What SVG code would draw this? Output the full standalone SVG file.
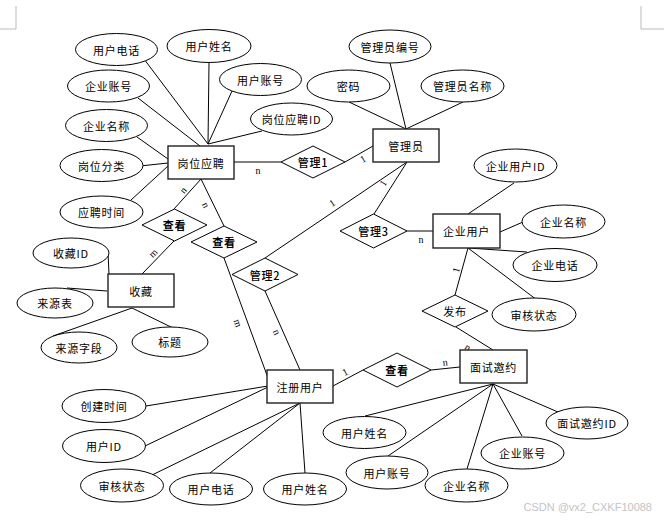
<svg xmlns="http://www.w3.org/2000/svg" width="664" height="521" viewBox="0 0 664 521">
<style>
.e{fill:#fff;stroke:#000;stroke-width:1}
.r{fill:#fff;stroke:#222;stroke-width:1.4}
.d{fill:#fff;stroke:#000;stroke-width:1}
.t{font-family:"Noto Sans CJK SC","Liberation Sans",sans-serif;font-size:11px;letter-spacing:0.8px;text-anchor:middle;dominant-baseline:central;fill:#000}
.b{font-weight:bold}
.l{font-family:"Liberation Serif",serif;font-size:10px;text-anchor:middle;dominant-baseline:central;fill:#000}
#conn line{stroke:#000;stroke-width:1}
</style>
<rect width="664" height="521" fill="#fff"/>
<path d="M16,6 V29 H0 M641,6 V29 H664" fill="none" stroke="#bbb" stroke-width="1"/>
<g id="conn">
<line x1="144" y1="59" x2="208" y2="144"/>
<line x1="209" y1="63" x2="208" y2="144"/>
<line x1="232" y1="91" x2="208" y2="144"/>
<line x1="138" y1="98" x2="200" y2="146"/>
<line x1="262" y1="131" x2="208" y2="144"/>
<line x1="137" y1="137" x2="168" y2="159"/>
<line x1="140" y1="166" x2="168" y2="163"/>
<line x1="131" y1="200" x2="168" y2="166"/>
<line x1="234" y1="162" x2="281" y2="162"/>
<line x1="345" y1="162" x2="373" y2="146"/>
<line x1="201" y1="179" x2="174" y2="209"/>
<line x1="201" y1="179" x2="224" y2="226"/>
<line x1="174" y1="241" x2="142" y2="274"/>
<line x1="224" y1="258" x2="268" y2="378"/>
<line x1="265" y1="291" x2="300" y2="370"/>
<line x1="265" y1="258" x2="407" y2="162"/>
<line x1="407" y1="162" x2="374" y2="214"/>
<line x1="407" y1="231" x2="433" y2="231"/>
<line x1="390" y1="63" x2="406" y2="129"/>
<line x1="349" y1="102" x2="406" y2="129"/>
<line x1="463" y1="102" x2="406" y2="129"/>
<line x1="514" y1="183" x2="468" y2="214"/>
<line x1="500" y1="232" x2="523" y2="222"/>
<line x1="468" y1="248" x2="527" y2="252"/>
<line x1="468" y1="248" x2="537" y2="300"/>
<line x1="468" y1="248" x2="455" y2="295"/>
<line x1="456" y1="327" x2="493" y2="350"/>
<line x1="333" y1="386" x2="363" y2="370"/>
<line x1="431" y1="370" x2="460" y2="367"/>
<line x1="493" y1="384" x2="365" y2="416"/>
<line x1="493" y1="384" x2="388" y2="456"/>
<line x1="493" y1="384" x2="467" y2="469"/>
<line x1="493" y1="384" x2="522" y2="436"/>
<line x1="493" y1="384" x2="558" y2="412"/>
<line x1="146" y1="406" x2="268" y2="386"/>
<line x1="145" y1="446" x2="268" y2="387"/>
<line x1="152" y1="475" x2="300" y2="403"/>
<line x1="210" y1="473" x2="300" y2="403"/>
<line x1="305" y1="473" x2="300" y2="403"/>
<line x1="108" y1="252" x2="109" y2="274"/>
<line x1="67" y1="288" x2="107" y2="291"/>
<line x1="53" y1="336" x2="132" y2="308"/>
<line x1="173" y1="328" x2="132" y2="308"/>
<text class="l" x="258" y="170">n</text>
<text class="l" x="363" y="159" transform="rotate(-30 363 159)">1</text>
<text class="l" x="183" y="190" transform="rotate(-48 183 190)">n</text>
<text class="l" x="206" y="205" transform="rotate(64 206 205)">n</text>
<text class="l" x="153" y="253" transform="rotate(-45 153 253)">m</text>
<text class="l" x="238" y="323" transform="rotate(71 238 323)">m</text>
<text class="l" x="277" y="332" transform="rotate(66 277 332)">n</text>
<text class="l" x="332" y="203" transform="rotate(-34 332 203)">1</text>
<text class="l" x="383" y="183" transform="rotate(-58 383 183)">1</text>
<text class="l" x="421" y="239">n</text>
<text class="l" x="456" y="270" transform="rotate(-75 456 270)">1</text>
<text class="l" x="468" y="347" transform="rotate(32 468 347)">n</text>
<text class="l" x="345" y="372" transform="rotate(-28 345 372)">1</text>
<text class="l" x="445" y="362" transform="rotate(-6 445 362)">n</text>
</g>
<g id="n_gwyp"><rect class="r" x="168" y="146" width="66" height="33"/><text class="t" x="201" y="162.5">岗位应聘</text></g>
<g id="a_yhdh"><ellipse class="e" cx="116.5" cy="49.5" rx="41" ry="16"/><text class="t" x="116.5" y="49.5">用户电话</text></g>
<g id="a_yhxm"><ellipse class="e" cx="209" cy="46" rx="42" ry="16.5"/><text class="t" x="209" y="46">用户姓名</text></g>
<g id="a_yhzh"><ellipse class="e" cx="260.5" cy="79.5" rx="41" ry="16"/><text class="t" x="260.5" y="79.5">用户账号</text></g>
<g id="a_qyzh"><ellipse class="e" cx="108.5" cy="86" rx="41" ry="16"/><text class="t" x="108.5" y="86">企业账号</text></g>
<g id="a_qymc"><ellipse class="e" cx="106.5" cy="125.5" rx="41" ry="16"/><text class="t" x="106.5" y="125.5">企业名称</text></g>
<g id="a_gwypid"><ellipse class="e" cx="291.5" cy="119" rx="41" ry="16"/><text class="t" x="291.5" y="119">岗位应聘ID</text></g>
<g id="a_gwfl"><ellipse class="e" cx="101.5" cy="165.5" rx="41.5" ry="16"/><text class="t" x="101.5" y="165.5">岗位分类</text></g>
<g id="a_ypsj"><ellipse class="e" cx="101.5" cy="212" rx="41.5" ry="16"/><text class="t" x="101.5" y="212">应聘时间</text></g>
<g id="r_gl1"><polygon class="d" points="281,162 313,146 345,162 313,178"/><text class="t b" x="313" y="162" style="font-weight:500">管理1</text></g>
<g id="n_gly"><rect class="r" x="373" y="129" width="66" height="33"/><text class="t" x="406" y="145.5">管理员</text></g>
<g id="a_glybh"><ellipse class="e" cx="390" cy="46.5" rx="41" ry="16.5"/><text class="t" x="390" y="46.5">管理员编号</text></g>
<g id="a_mm"><ellipse class="e" cx="348.5" cy="86" rx="41.5" ry="16"/><text class="t" x="348.5" y="86">密码</text></g>
<g id="a_glymc"><ellipse class="e" cx="462.5" cy="86" rx="41.5" ry="16"/><text class="t" x="462.5" y="86">管理员名称</text></g>
<g id="r_ck1"><polygon class="d" points="142,225 174.5,209 207,225 174.5,241"/><text class="t b" x="174.5" y="225">查看</text></g>
<g id="r_ck2"><polygon class="d" points="191,242 224,226 257,242 224,258"/><text class="t b" x="224" y="242">查看</text></g>
<g id="n_sc"><rect class="r" x="108" y="274" width="66" height="33"/><text class="t" x="141" y="290.5">收藏</text></g>
<g id="a_scid"><ellipse class="e" cx="71" cy="253" rx="38" ry="15"/><text class="t" x="71" y="253">收藏ID</text></g>
<g id="a_lyb"><ellipse class="e" cx="55" cy="303" rx="38" ry="15"/><text class="t" x="55" y="303">来源表</text></g>
<g id="a_lyzd"><ellipse class="e" cx="79" cy="347.5" rx="38" ry="15.5"/><text class="t" x="79" y="347.5">来源字段</text></g>
<g id="a_bt"><ellipse class="e" cx="170" cy="342" rx="38" ry="15"/><text class="t" x="170" y="342">标题</text></g>
<g id="r_gl2"><polygon class="d" points="232,274.5 265,258 298,274.5 265,291"/><text class="t" x="265" y="274.5" style="font-weight:500">管理2</text></g>
<g id="r_gl3"><polygon class="d" points="340,231 373.5,214 407,231 373.5,248"/><text class="t" x="373.5" y="231" style="font-weight:500">管理3</text></g>
<g id="n_qyyh"><rect class="r" x="433" y="214" width="67" height="34"/><text class="t" x="466.5" y="231">企业用户</text></g>
<g id="a_qyyhid"><ellipse class="e" cx="515.5" cy="165.5" rx="41.5" ry="16.5"/><text class="t" x="515.5" y="165.5">企业用户ID</text></g>
<g id="a_qymc2"><ellipse class="e" cx="563.5" cy="221.5" rx="41.5" ry="16.5"/><text class="t" x="563.5" y="221.5">企业名称</text></g>
<g id="a_qydh"><ellipse class="e" cx="555" cy="265" rx="42" ry="16.5"/><text class="t" x="555" y="265">企业电话</text></g>
<g id="a_shzt2"><ellipse class="e" cx="534" cy="314.5" rx="42" ry="16.5"/><text class="t" x="534" y="314.5">审核状态</text></g>
<g id="r_fb"><polygon class="d" points="422,311 455,295 488,311 455,327"/><text class="t" x="455" y="311">发布</text></g>
<g id="n_msyy"><rect class="r" x="460" y="350" width="67" height="33"/><text class="t" x="493.5" y="366.5">面试邀约</text></g>
<g id="r_ck3"><polygon class="d" points="363,370 397,353 431,370 397,387"/><text class="t b" x="397" y="370">查看</text></g>
<g id="n_zcyh"><rect class="r" x="267" y="370" width="66" height="33"/><text class="t" x="300" y="386.5">注册用户</text></g>
<g id="a_cjsj"><ellipse class="e" cx="104" cy="406" rx="42" ry="16.5"/><text class="t" x="104" y="406">创建时间</text></g>
<g id="a_yhid"><ellipse class="e" cx="104" cy="446" rx="41.5" ry="16.5"/><text class="t" x="104" y="446">用户ID</text></g>
<g id="a_shzt"><ellipse class="e" cx="122" cy="485.5" rx="41.5" ry="16.5"/><text class="t" x="122" y="485.5">审核状态</text></g>
<g id="a_yhdh2"><ellipse class="e" cx="211" cy="489" rx="41.5" ry="16"/><text class="t" x="211" y="489">用户电话</text></g>
<g id="a_yhxm2"><ellipse class="e" cx="305" cy="489" rx="41.5" ry="16"/><text class="t" x="305" y="489">用户姓名</text></g>
<g id="a_yhxm3"><ellipse class="e" cx="364.5" cy="432.5" rx="41.5" ry="16"/><text class="t" x="364.5" y="432.5">用户姓名</text></g>
<g id="a_yhzh2"><ellipse class="e" cx="387" cy="472.5" rx="41" ry="16.5"/><text class="t" x="387" y="472.5">用户账号</text></g>
<g id="a_qymc3"><ellipse class="e" cx="466.5" cy="485.5" rx="41.5" ry="16.5"/><text class="t" x="466.5" y="485.5">企业名称</text></g>
<g id="a_qyzh2"><ellipse class="e" cx="522.5" cy="453" rx="41.5" ry="16"/><text class="t" x="522.5" y="453">企业账号</text></g>
<g id="a_msyyid"><ellipse class="e" cx="587" cy="423" rx="41" ry="16"/><text class="t" x="587" y="423">面试邀约ID</text></g>
<text x="652" y="507" font-family="'Liberation Sans','Noto Sans CJK SC',sans-serif" font-size="11" fill="#c4c4c4" text-anchor="end" dominant-baseline="central">CSDN @vx2_CXKF10088</text>
</svg>
